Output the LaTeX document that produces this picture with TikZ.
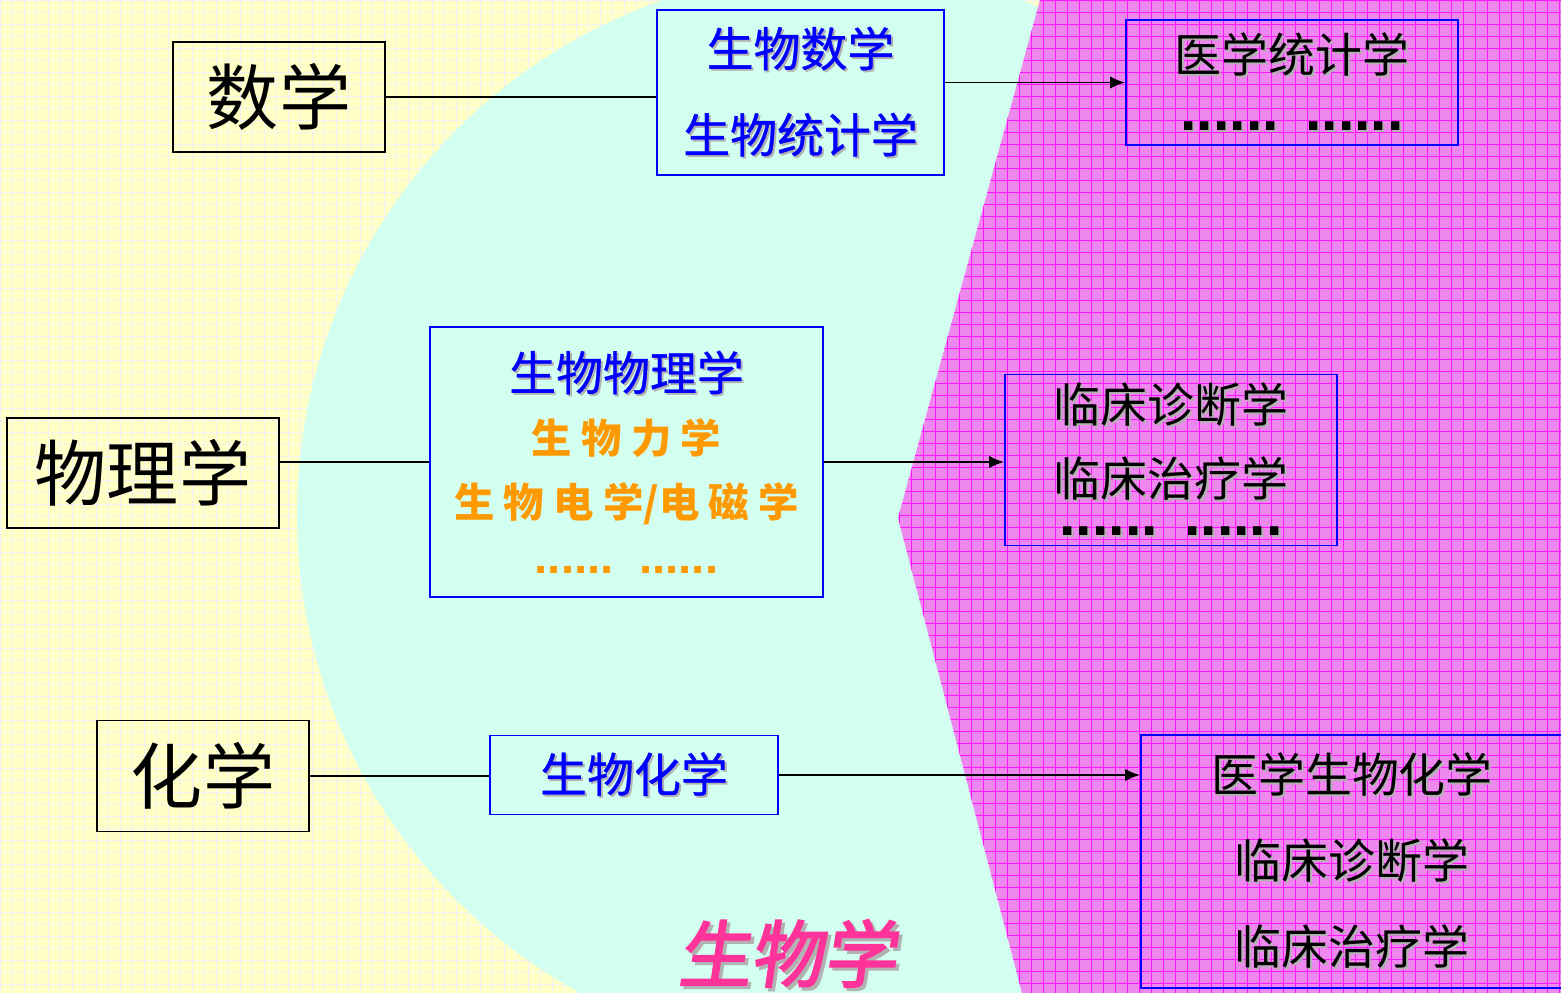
\documentclass[tikz,border=0pt]{standalone}
\usepackage{fontspec}
\newfontfamily\cjk{Noto Sans CJK SC}
\newfontfamily\cjkmed[FakeBold=0.7]{Noto Sans CJK SC}
\newfontfamily\brushfont[FakeSlant=0.15,FakeBold=2.5]{Noto Sans CJK SC}
\newfontfamily\dotfont{Liberation Sans}
\usetikzlibrary{arrows.meta, positioning}

\definecolor{bgyellow}  {RGB}{255,255,198}
\definecolor{bgcyan}    {RGB}{210,255,240}
\definecolor{bgpink}    {RGB}{238,136,238}
\definecolor{gridpink}  {RGB}{255,20,255}
\definecolor{txtblue}   {RGB}{0,0,255}
\definecolor{txtorange} {RGB}{255,153,0}
\definecolor{txtpink}   {RGB}{255,51,153}

\newcommand{\shtxt}[3][1.1pt]{\leavevmode\rlap{\kern#1\raisebox{-#1}{\color{black!30}#3}}{\color{#2}#3}}
\newcommand{\dotrow}[2]{{\dotfont\bfseries\fontsize{#1}{#1}\selectfont ......\hspace{#2}......}}

\begin{document}
\begin{tikzpicture}
    [
        x=0.02cm, y=-0.02cm,
        font=\cjk,
        subj/.style  ={draw=black, line width=1.1pt, inner sep=0pt,
                        font=\cjk\fontsize{41}{48}\selectfont},
        bio/.style   ={draw=txtblue, line width=1.1pt, inner sep=0pt, align=center,
                        font=\cjkmed\fontsize{26.7}{49}\selectfont},
        med/.style   ={draw=txtblue, line width=1.1pt, inner sep=0pt, align=center,
                        font=\cjk\fontsize{26.7}{49}\selectfont},
        link/.style  ={-, black, line width=1.1pt},
        oarc/.style  ={->, >={Latex[length=8.5pt,width=7pt]}, black, line width=1.1pt},
        banner/.style={font=\brushfont\fontsize{41.5}{45}\selectfont}
    ]

    \fill[bgyellow]   (0,0) rectangle (1561,993);
    \useasboundingbox (0,0) rectangle (1561,993);
    \draw[black!5, line width=0.3pt, step=0.24cm] (0,0) grid (1561,993);
    \fill[bgcyan]     (842,515) circle [radius=10.9cm];

    \begin{scope}
        \clip (1040,0) -- (898,518) -- (1022,993) -- (1600,993) -- (1600,0) -- cycle;
        \fill[bgpink] (880,0) rectangle (1600,993);
        \draw[gridpink, line width=0.5pt, step=0.24cm] (880,0) grid (1600,993);
    \end{scope}

    \node[subj, minimum width=4.24cm, minimum height=2.2cm]   (sx)  at (279,97)    {数学};
    \node[subj, minimum width=5.44cm, minimum height=2.2cm]   (wl)  at (143,473)   {物理学};
    \node[subj, minimum width=4.24cm, minimum height=2.22cm]  (hx)  at (203,776)   {化学};

    \node[bio,  minimum width=5.74cm, minimum height=3.3cm]   (bm)  at (800.5,92.5)
        {\shtxt{txtblue}{生物数学}\\\shtxt{txtblue}{生物统计学}};
    \node[bio,  minimum width=7.86cm, minimum height=5.4cm,
          font=\cjk\bfseries\fontsize{23}{36}\selectfont]      (bp)  at (626.5,462)
        {{\cjkmed\mdseries\fontsize{26.7}{36}\selectfont\shtxt{txtblue}{生物物理学}}\\
         {\color{txtorange}生 物 力 学}\\
         {\color{txtorange}生 物 电 学/电 磁 学}\\[-4pt]
         {\color{txtorange}\dotrow{27}{14.4pt}}};
    \node[bio,  minimum width=5.76cm, minimum height=1.58cm]  (bc)  at (634,775)
        {\shtxt{txtblue}{生物化学}};

    \node[med,  minimum width=6.64cm, minimum height=2.5cm]   (ys)  at (1292,82.5)
        {\shtxt{black}{医学统计学}\\[-16pt]\shtxt{black}{\dotrow{33.6}{15pt}}};
    \node[med,  minimum width=6.64cm, minimum height=3.42cm,
          font=\cjk\fontsize{26.7}{42}\selectfont]             (lc)  at (1171,460)
        {\shtxt{black}{临床诊断学}\\\shtxt{black}{临床治疗学}\\[-20pt]\shtxt{black}{\dotrow{33.6}{15pt}}};
    \node[med,  minimum width=8.44cm, minimum height=5.06cm]  (yb)  at (1352,861.5)
        {\shtxt{black}{医学生物化学}\\\shtxt{black}{临床诊断学}\\\shtxt{black}{临床治疗学}};

    \node[banner]                                             (sw)  at (787,955)
        {\shtxt[1.8pt]{txtpink}{生物学}};

    \draw[link]     (sx.east) -- (sx.east -| bm.west);
    \draw[link]     (bp.west -| wl.east) -- (bp.west);
    \draw[link]     (hx.east) -- (hx.east -| bc.west);

    \draw[oarc]     (ys.west -| bm.east) -- (ys.west);
    \draw[oarc]     (bp.east) -- (bp.east -| lc.west);
    \draw[oarc]     (bc.east) -- (bc.east -| yb.west);

\end{tikzpicture}
\end{document}
